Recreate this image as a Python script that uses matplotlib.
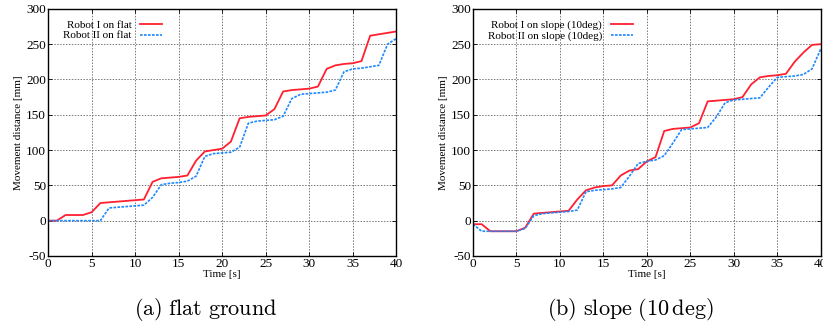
import numpy as np
import matplotlib.pyplot as plt

plt.rcParams['font.family'] = 'Liberation Serif'
plt.rcParams['mathtext.fontset'] = 'cm'
plt.rcParams['axes.unicode_minus'] = False

# data ------------------------------------------------
time = np.arange(0, 41)

flat_robot1 = [0, 0, 8, 8, 8, 12, 25, 26, 27, 28, 29, 30, 55, 60, 61, 62, 64, 85, 98, 100,
               102, 112, 145, 147, 148, 149, 158, 183, 185, 186, 187, 190, 215, 220, 222, 223,
               226, 262, 264, 266, 268]
flat_robot2 = [0, 0, 0, 0, 0, 0, 0, 18, 19, 20, 21, 22, 33, 51, 53, 54, 56, 63, 91, 95,
               96, 97, 104, 138, 141, 142, 143, 148, 173, 179, 180, 181, 182, 185, 211, 215,
               216, 218, 220, 250, 258]

slope_robot1 = [-5, -5, -15, -15, -15, -15, -10, 10, 11, 12, 13, 14, 30, 43, 47, 49, 50, 64, 71, 73,
                84, 90, 127, 130, 131, 132, 138, 169, 170, 171, 172, 175, 193, 203, 205, 206,
                208, 225, 238, 249, 250]
slope_robot2 = [-5, -15, -15, -15, -15, -15, -11, 7, 10, 11, 12, 13, 15, 41, 43, 44, 45, 47, 63, 81,
                84, 86, 92, 110, 129, 130, 131, 132, 147, 167, 171, 172, 173, 174, 189, 203,
                204, 205, 207, 215, 243]

panels = [
    (flat_robot1, flat_robot2, 'Robot I on flat', 'Robot II on flat'),
    (slope_robot1, slope_robot2, 'Robot I on slope (10deg)', 'Robot II on slope (10deg)'),
]
captions = [r'$\mathrm{(a)\ flat\ ground}$', r'$\mathrm{(b)\ slope\ (10\,deg)}$']

fig = plt.figure(figsize=(8.23, 3.29), dpi=100)
axes = [fig.add_axes([0.0585, 0.222, 0.423, 0.751]),
        fig.add_axes([0.5747, 0.222, 0.4225, 0.751])]

for ax, (r1, r2, lab1, lab2) in zip(axes, panels):
    ax.plot(time, r1, color='#ff2030', linewidth=1.3, label=lab1)
    ax.plot(time, r2, color='#1e88ff', linewidth=1.2, linestyle=(0, (1.6, 0.8)), label=lab2)

    ax.set_xlim(0, 40)
    ax.set_ylim(-50, 300)
    ax.set_xticks(range(0, 41, 5))
    ax.set_yticks(range(-50, 301, 50))
    ax.tick_params(direction='in', length=3, width=0.6, labelsize=9.5, pad=1.5,
                   top=True, right=True)
    ax.grid(True, color='#777777', linestyle=(0, (1.5, 1.5)), linewidth=0.7)
    for s in ax.spines.values():
        s.set_linewidth(1.0)

    ax.set_xlabel('Time [s]', fontsize=8, labelpad=0)
    ax.set_ylabel('Movement distance [mm]', fontsize=8, labelpad=2)

    ax.legend(loc='upper left', bbox_to_anchor=(0.02, 0.985), frameon=False, fontsize=8,
              markerfirst=False, handlelength=2.0, handletextpad=0.8, labelspacing=0.05,
              borderaxespad=0.3)

# sub-figure captions
fig.text(0.250, 0.058, captions[0], ha='center', va='center', fontsize=16)
fig.text(0.7655, 0.058, captions[1], ha='center', va='center', fontsize=16)

plt.savefig('out.png', dpi=100)
